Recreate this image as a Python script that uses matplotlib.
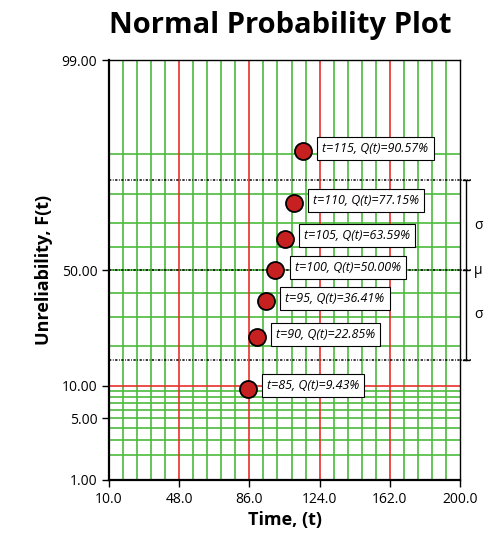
import matplotlib
matplotlib.use("Agg")
import matplotlib.pyplot as plt
from matplotlib.transforms import blended_transform_factory
import numpy as np
from statistics import NormalDist

plt.rcParams['font.family'] = ['Open Sans', 'DejaVu Sans']

times = [85, 90, 95, 100, 105, 110, 115]
unrel = [9.43, 22.85, 36.41, 50.00, 63.59, 77.15, 90.57]
xticks = [10.0, 48.0, 86.0, 124.0, 162.0, 200.0]
yticks = [1.00, 5.00, 10.00, 50.00, 99.00]
ygrid = [2, 3, 4, 5, 6, 7, 8, 9, 20, 30, 40, 50, 60, 70, 80, 90]
yred = [10, 50]
mu_sigma = [15.87, 50.0, 84.13]

nd = NormalDist()
def z(p):
    return nd.inv_cdf(p / 100.0)

fig = plt.figure(figsize=(5, 5.41), dpi=100)
ax = fig.add_axes([0.218, 0.1128, 0.702, 0.776])
ax.set_xlim(10, 200)
ax.set_ylim(z(1), z(99))

green = '#4cbb3c'
red = '#e8302a'
for i in range(len(xticks) - 1):
    for k in range(1, 5):
        ax.axvline(xticks[i] + k * (xticks[i+1] - xticks[i]) / 5, color=green, lw=1.2, zorder=1)
for x in xticks[1:-1]:
    ax.axvline(x, color=red, lw=1.2, zorder=1.5)
for p in ygrid:
    ax.axhline(z(p), color=green, lw=1.2, zorder=1)
for p in yred:
    if p == 10:
        ax.axhline(z(p), color=red, lw=1.2, zorder=1.5)

tr = blended_transform_factory(ax.transAxes, ax.transData)
for p in mu_sigma:
    ax.plot([0, 1.03], [z(p)] * 2, transform=tr, color='black', lw=1.1,
            ls=(0, (1.5, 1.0, 0.5, 1.0)), clip_on=False, zorder=3)
xb = 1.017
ax.plot([xb, xb], [z(mu_sigma[0]), z(mu_sigma[2])], transform=tr, color='black', lw=1, clip_on=False)
for p in mu_sigma:
    ax.plot([xb - 0.008, xb + 0.008], [z(p)] * 2, transform=tr, color='black', lw=1, clip_on=False)
for lab, p in [('σ', (mu_sigma[0] + mu_sigma[1]) / 2 - 2), ('μ', 50.0), ('σ', (mu_sigma[1] + mu_sigma[2]) / 2 + 2)]:
    ax.text(1.04, z(p), lab, transform=tr, fontsize=10, va='center', ha='left')

zs = [z(p) for p in unrel]
ax.scatter(times, zs, s=150, color='#c62020', edgecolor='black', linewidth=1.3, zorder=5)
for t, p, zz in zip(times, unrel, zs):
    ax.annotate(f"t={t}, Q(t)={p:.2f}%", (t, zz), xytext=(14, 2), textcoords='offset points',
                fontsize=9, style='italic', ha='left', va='center', zorder=6,
                bbox=dict(boxstyle='square,pad=0.4', fc='white', ec='black', lw=0.8))

ax.set_xticks(xticks)
ax.set_xticklabels([f"{v:.1f}" for v in xticks])
ax.set_yticks([z(v) for v in yticks])
ax.set_yticklabels([f"{v:.2f}" for v in yticks])
ax.tick_params(labelsize=10, length=5, width=1)
for s in ax.spines.values():
    s.set_linewidth(1)
ax.spines['left'].set_linewidth(1.6)
ax.spines['bottom'].set_linewidth(1.6)
ax.set_xlabel("Time, (t)", fontsize=13, fontweight='bold', labelpad=3)
ax.set_ylabel("Unreliability, F(t)", fontsize=13, fontweight='bold', labelpad=6)
fig.text(0.56, 0.953, "Normal Probability Plot", fontsize=21, fontweight='bold', ha='center', va='center')

fig.savefig("out.png", dpi=100)
